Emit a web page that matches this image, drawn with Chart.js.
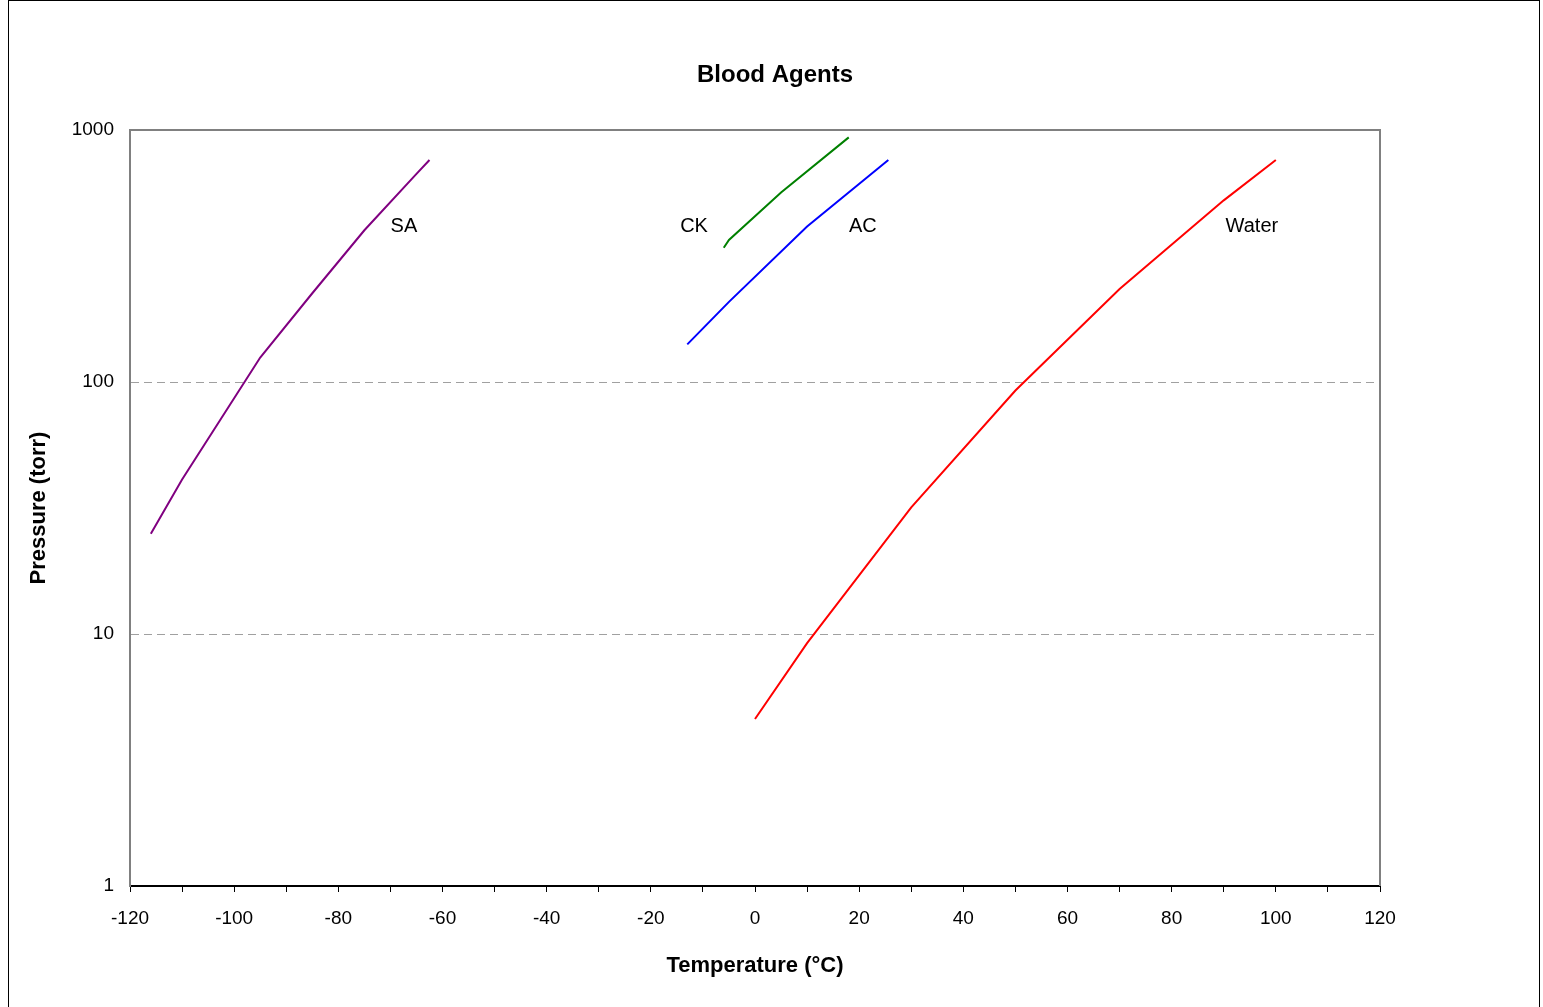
<!DOCTYPE html>
<html>
<head>
<meta charset="utf-8">
<script src="https://cdn.jsdelivr.net/npm/chart.js@4/dist/chart.umd.min.js"></script>
<style>
  html, body { margin: 0; padding: 0; background: #fff; }
  #wrap { width: 1543px; height: 1007px; position: relative; }
</style>
</head>
<body>
<div id="wrap"><canvas id="c" width="1543" height="1007"></canvas></div>
<script>
// ---- data ----
const saTemp = [-116, -110, -95, -85, -75, -65, -62.5];
const saPress = [25, 41, 125, 225, 400, 670, 760];

const ckTemp = [-6, -5, 5, 18];
const ckPress = [341, 366, 565, 935];

const acTemp = [-13, -5, 10, 25.6];
const acPress = [141, 208, 414, 760];

const waterTemp = [0, 10, 30, 50, 70, 90, 100];
const waterPress = [4.6, 9.2, 31.8, 92.5, 233.7, 525.8, 760];

const seriesNames = ['SA', 'CK', 'AC', 'Water'];
const labelTemp = [-67.4, -11.7, 20.7, 95.4];
const labelPress = [416, 416, 416, 416];

const yTickValues = [1, 10, 100, 1000];
const xMin = -120, xMax = 120, xStep = 10;

function pts(xs, ys) { return xs.map((x, i) => ({ x: x, y: ys[i] })); }

const colors = ['#800080', '#008000', '#0000ff', '#ff0000'];
const FONT = 'Arial, "Liberation Sans", sans-serif';

const decorPlugin = {
  id: 'decor',
  afterDatasetsDraw(chart) {
    const ctx = chart.ctx;
    const a = chart.chartArea;
    const xs = chart.scales.x, ys = chart.scales.y;
    ctx.save();
    // top & right plot border
    ctx.strokeStyle = '#808080';
    ctx.lineWidth = 2;
    ctx.setLineDash([]);
    ctx.beginPath();
    ctx.moveTo(a.left, a.top);
    ctx.lineTo(a.right, a.top);
    ctx.lineTo(a.right, a.bottom);
    ctx.stroke();
    // series labels
    ctx.fillStyle = '#000';
    ctx.font = '20px ' + FONT;
    ctx.textAlign = 'center';
    ctx.textBaseline = 'middle';
    seriesNames.forEach((n, i) => {
      ctx.fillText(n, xs.getPixelForValue(labelTemp[i]), ys.getPixelForValue(labelPress[i]));
    });
    // outer border
    ctx.strokeStyle = '#000';
    ctx.lineWidth = 1;
    ctx.strokeRect(8.5, 0.5, 1531, 1030);
    ctx.restore();
  }
};

new Chart(document.getElementById('c'), {
  type: 'scatter',
  data: {
    datasets: [
      { label: 'SA', data: pts(saTemp, saPress) },
      { label: 'CK', data: pts(ckTemp, ckPress) },
      { label: 'AC', data: pts(acTemp, acPress) },
      { label: 'Water', data: pts(waterTemp, waterPress) }
    ].map((d, i) => Object.assign(d, {
      showLine: true, borderColor: colors[i], backgroundColor: colors[i],
      borderWidth: 2, pointRadius: 0, tension: 0
    }))
  },
  options: {
    responsive: false,
    animation: false,
    devicePixelRatio: 1,
    layout: { padding: { left: 7, right: 0, top: 0, bottom: 0 } },
    plugins: {
      legend: { display: false },
      tooltip: { enabled: false },
      title: {
        display: true,
        text: 'Blood Agents',
        color: '#000',
        font: { family: FONT, size: 24, weight: 'bold' },
        padding: { top: 61, bottom: 40.2 }
      }
    },
    scales: {
      x: {
        type: 'linear',
        min: xMin, max: xMax,
        border: { color: '#000', width: 2 },
        grid: { drawOnChartArea: false, drawTicks: true, tickLength: 6, color: '#000', lineWidth: 1 },
        ticks: {
          stepSize: xStep, autoSkip: false, maxRotation: 0, padding: 15, color: '#000',
          font: { family: FONT, size: 19 },
          callback: v => (v % 20 === 0 ? String(v) : '')
        },
        title: {
          display: true, text: 'Temperature (°C)', color: '#000',
          font: { family: FONT, size: 22, weight: 'bold' },
          padding: { top: 0, bottom: 28 }
        },
        afterFit: s => { s.height = 121; }
      },
      y: {
        type: 'logarithmic',
        min: 1, max: 1000,
        border: { color: '#808080', width: 2, dash: [8, 5] },
        grid: {
          drawTicks: false,
          color: c => (c.tick && (c.tick.value === 10 || c.tick.value === 100)) ? '#a0a0a0' : 'rgba(0,0,0,0)',
          lineWidth: 1
        },
        ticks: {
          padding: 16, color: '#000',
          font: { family: FONT, size: 19 },
          callback: v => String(v)
        },
        afterBuildTicks: s => { s.ticks = yTickValues.map(v => ({ value: v })); },
        title: {
          display: true, text: 'Pressure (torr)', color: '#000',
          font: { family: FONT, size: 22, weight: 'bold' },
          padding: { top: 19, bottom: 0 }
        },
        afterFit: s => { s.width = 123; }
      },
      yRight: {
        type: 'linear',
        position: 'right',
        display: true,
        grid: { display: false, drawTicks: false },
        border: { display: false },
        ticks: { display: false },
        afterFit: s => { s.width = 163; }
      }
    }
  },
  plugins: [decorPlugin]
});
</script>
</body>
</html>
